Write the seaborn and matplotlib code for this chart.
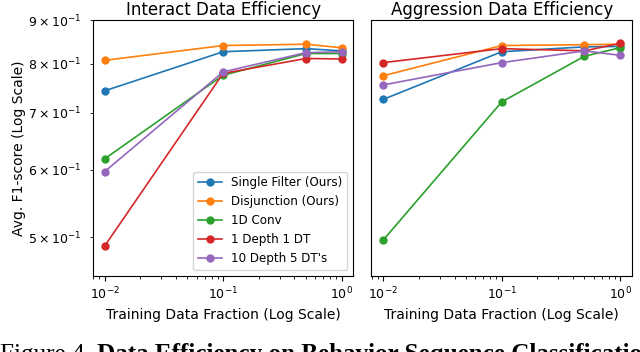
import numpy as np
import pandas as pd
import matplotlib
matplotlib.use("Agg")
import matplotlib.pyplot as plt
import seaborn as sns

# Training fractions (x) and avg F1-scores
fractions = [0.01, 0.1, 0.5, 1.0]
methods = ["Single Filter (Ours)", "Disjunction (Ours)", "1D Conv",
           "1 Depth 1 DT", "10 Depth 5 DT's"]

interact_single = [0.743, 0.826, 0.833, 0.828]
interact_disj = [0.807, 0.840, 0.843, 0.835]
interact_conv = [0.618, 0.775, 0.822, 0.822]
interact_dt1 = [0.488, 0.779, 0.811, 0.810]
interact_dt10 = [0.597, 0.782, 0.824, 0.826]

aggr_single = [0.726, 0.826, 0.837, 0.838]
aggr_disj = [0.774, 0.840, 0.842, 0.843]
aggr_conv = [0.496, 0.721, 0.816, 0.835]
aggr_dt1 = [0.802, 0.833, 0.828, 0.845]
aggr_dt10 = [0.755, 0.802, 0.828, 0.818]


def to_long(series):
    rows = []
    for name, vals in zip(methods, series):
        for f, v in zip(fractions, vals):
            rows.append({"fraction": f, "f1": v, "method": name})
    return pd.DataFrame(rows)


interact_df = to_long([interact_single, interact_disj, interact_conv, interact_dt1, interact_dt10])
aggr_df = to_long([aggr_single, aggr_disj, aggr_conv, aggr_dt1, aggr_dt10])

palette = sns.color_palette("tab10", 5)

fig, axes = plt.subplots(1, 2, figsize=(6.4, 3.52), dpi=100, sharey=True)
fig.subplots_adjust(left=0.145, right=0.9875, top=0.943, bottom=0.216, wspace=0.069)

for ax, df, title, show_legend in [(axes[0], interact_df, "Interact Data Efficiency", True),
                                   (axes[1], aggr_df, "Aggression Data Efficiency", False)]:
    sns.lineplot(data=df, x="fraction", y="f1", hue="method", hue_order=methods,
                 palette=palette, marker="o", markersize=6, markeredgewidth=0,
                 linewidth=1.2, ax=ax, legend=show_legend)
    ax.set_xscale("log")
    ax.set_yscale("log")
    ax.set_title(title, fontsize=12, pad=3.5)
    ax.set_xlabel("Training Data Fraction (Log Scale)", fontsize=10)
    ax.tick_params(labelsize=9, which="both")

axes[0].set_ylim(0.45, 0.9)
axes[0].tick_params(axis="y", which="minor", pad=6)
axes[0].set_ylabel("Avg. F1-score (Log Scale)", fontsize=10)
axes[0].yaxis.set_label_coords(-0.255, 0.5)
axes[1].set_ylabel("")
axes[1].tick_params(axis="y", which="both", left=False, labelleft=False)

leg = axes[0].legend(loc="lower right", fontsize=8.6, title=None)

# caption, cut off at the bottom as in the source page
cap1 = fig.text(0.0, 0.023, "Figure 4. ", family="Liberation Serif", fontsize=18.1, va="top", ha="left")
axes[0].annotate("Data Efficiency on Behavior Sequence Classification.", xy=(1, 0),
                 xycoords=cap1, va="bottom", ha="left", family="Liberation Serif",
                 fontsize=18.1, fontweight="bold", annotation_clip=False)

fig.savefig("out.png", dpi=100)
